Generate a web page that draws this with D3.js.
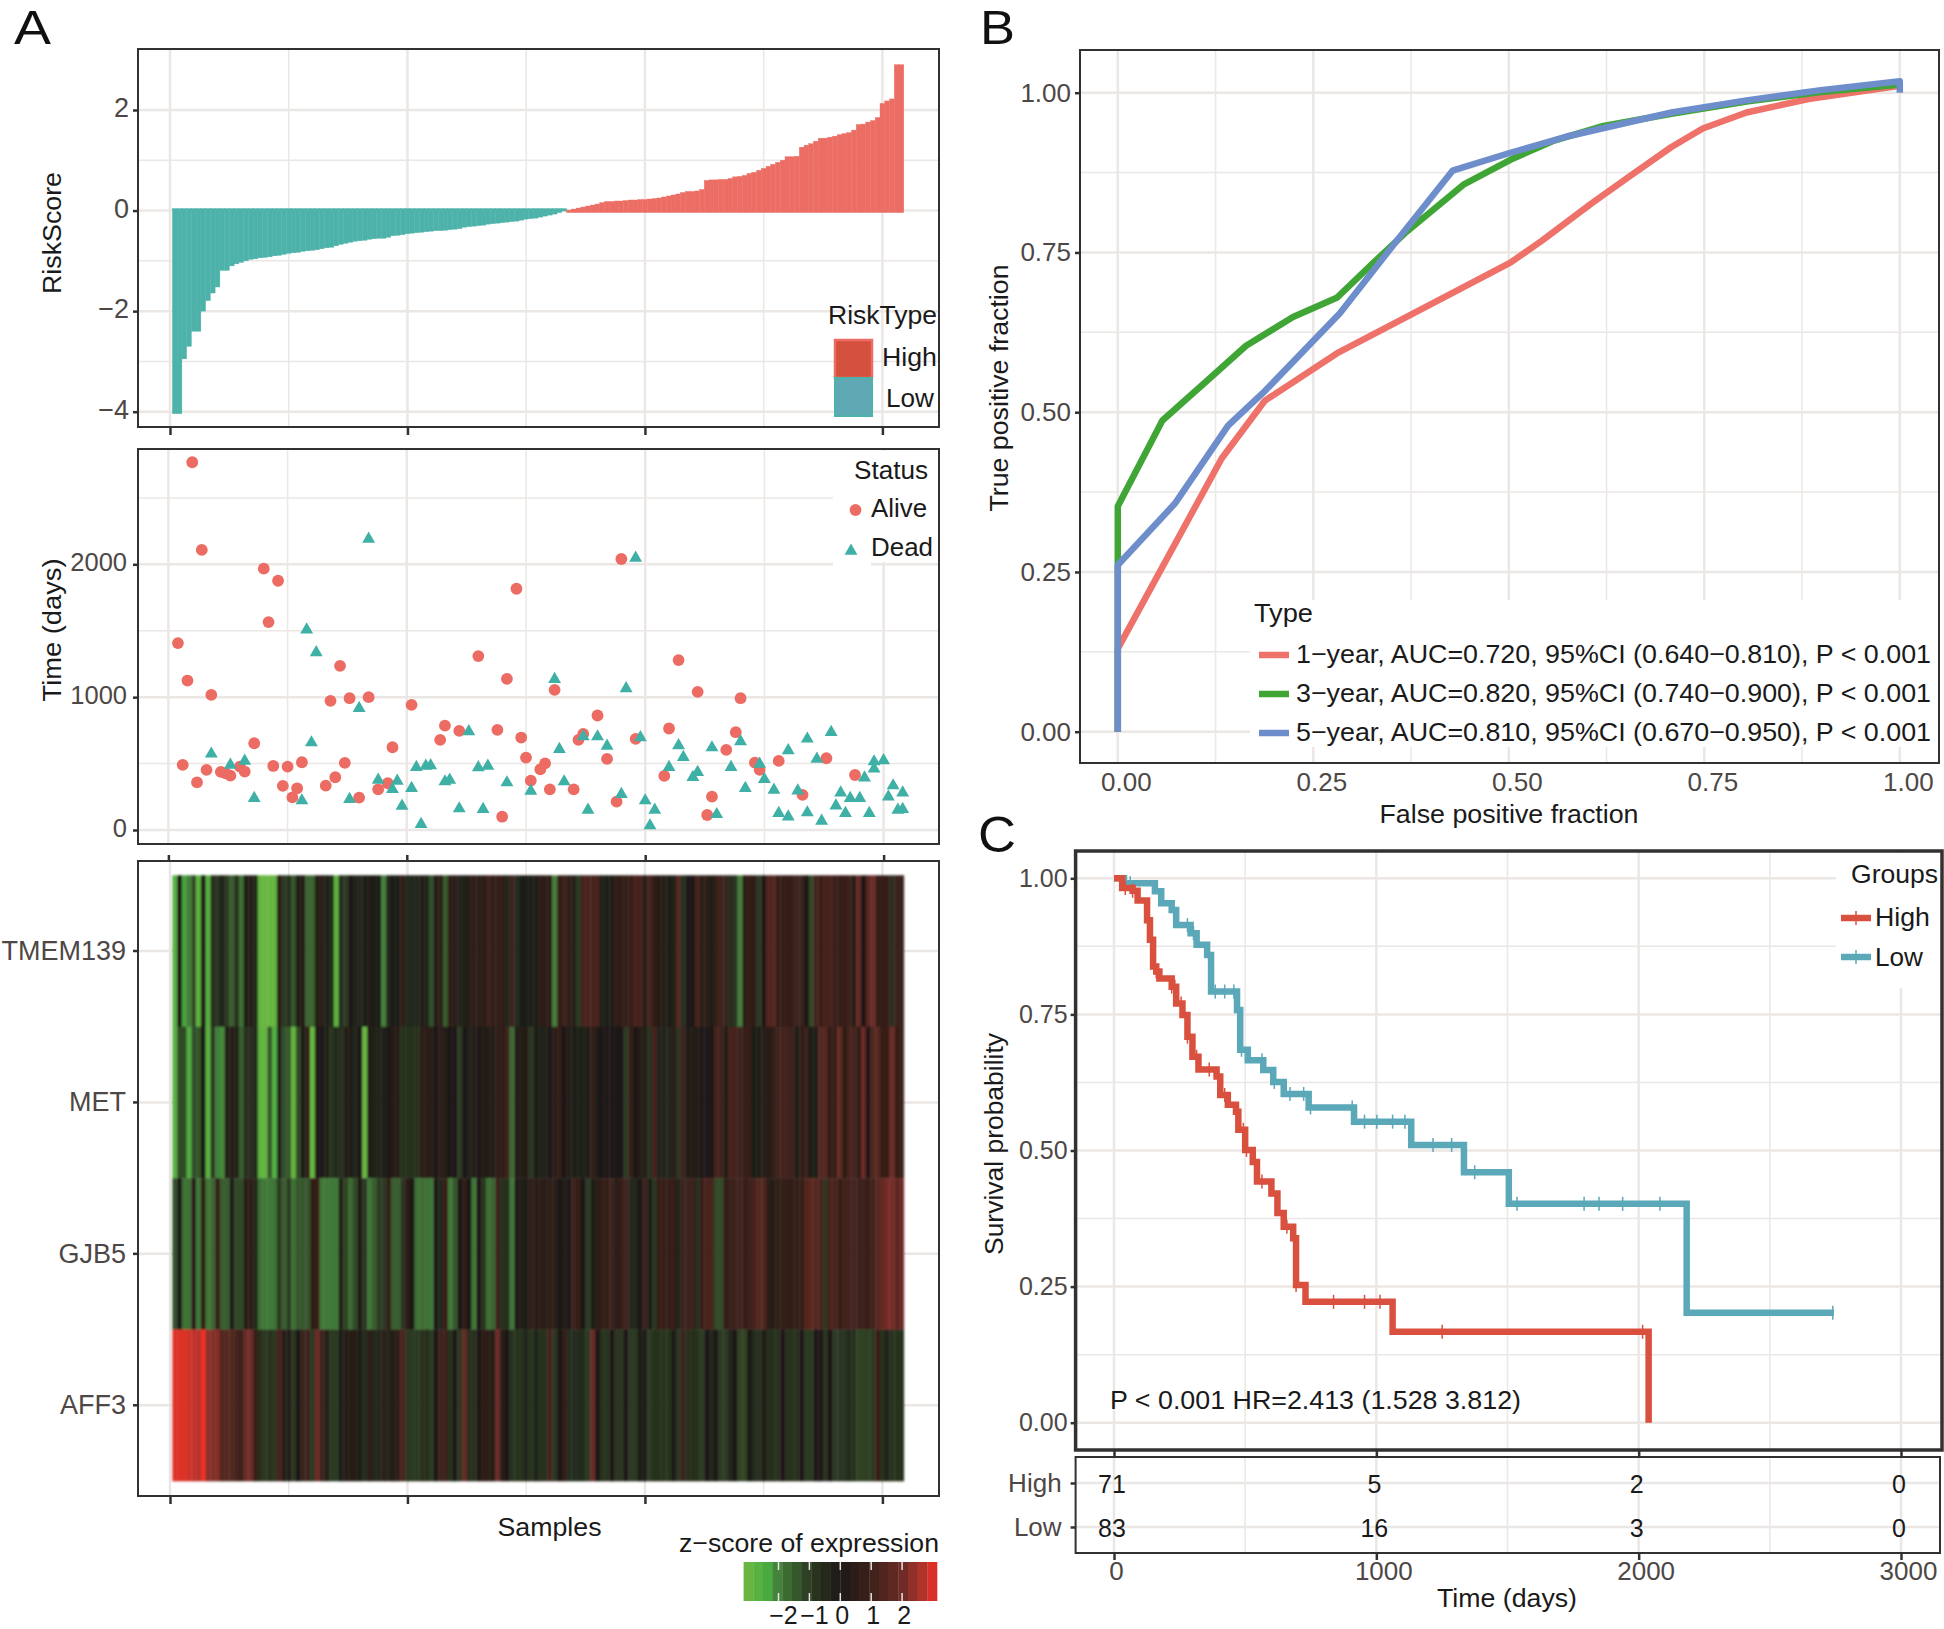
<!DOCTYPE html>
<html>
<head>
<meta charset="utf-8">
<script src="https://cdn.jsdelivr.net/npm/d3@7"></script>
<style>
  html, body { margin: 0; padding: 0; background: #fff; }
  svg { display: block; }
</style>
</head>
<body>
<script>
/**
 * Primary constants
 */
const WIDTH = 1944;
const HEIGHT = 1629;
const FONT = "'Liberation Sans', Arial, sans-serif";
const GRID_COLOR = "#ebe7e5";
const AXIS_COLOR = "#4d4745";
const FRAME_COLOR = "#333030";

/**
 * Panel A - risk score per sample, sorted
 */
const riskLow = [-4.04,-4.04,-2.95,-2.70,-2.40,-2.40,-2.00,-1.79,-1.64,-1.52,
  -1.19,-1.19,-1.10,-1.06,-1.03,-1.00,-0.97,-0.96,-0.94,-0.93,
  -0.92,-0.90,-0.89,-0.87,-0.85,-0.84,-0.83,-0.81,-0.80,-0.79,
  -0.78,-0.76,-0.74,-0.73,-0.70,-0.67,-0.65,-0.63,-0.61,-0.60,
  -0.59,-0.57,-0.56,-0.55,-0.55,-0.53,-0.50,-0.49,-0.48,-0.46,
  -0.45,-0.44,-0.43,-0.42,-0.41,-0.40,-0.40,-0.39,-0.38,-0.37,
  -0.36,-0.33,-0.32,-0.31,-0.30,-0.29,-0.27,-0.26,-0.25,-0.24,
  -0.23,-0.22,-0.21,-0.19,-0.17,-0.16,-0.15,-0.13,-0.11,-0.09,
  -0.07,-0.04,-0.01];
const riskHigh = [0.01,0.03,0.05,0.07,0.09,0.11,0.13,0.16,0.18,0.18,
  0.19,0.19,0.20,0.21,0.21,0.22,0.22,0.23,0.24,0.25,
  0.27,0.29,0.31,0.33,0.36,0.38,0.38,0.39,0.42,
  0.60,0.61,0.61,0.62,0.62,0.64,0.67,0.68,0.70,0.74,
  0.76,0.80,0.84,0.88,0.92,0.96,1.00,1.07,1.07,1.08,
  1.26,1.30,1.33,1.38,1.44,1.44,1.46,1.48,1.51,1.53,
  1.55,1.60,1.71,1.72,1.76,1.79,1.85,2.13,2.18,2.22,2.90,2.90];

/**
 * Panel A - survival time per sample
 */
const aliveSample = [2,3,4,5,6,7,8,9,11,12,13,15,16,18,20,21,22,23,24,25,26,27,28,33,34,35,36,37,38,40,42,44,46,47,51,57,58,61,65,69,70,71,73,74,75,76,78,79,80,81,85,86,87,90,92,94,95,98,104,105,107,111,113,114,117,119,120,123,124,128,133,138,144];
const aliveDays = [1407,490,1125,2768,359,2108,452,1017,437,427,409,477,440,653,1967,1565,482,1876,332,477,246,314,510,334,972,397,1236,505,992,244,1000,306,352,623,942,678,786,746,1309,754,100,1138,1816,696,545,372,457,502,306,1055,306,678,723,862,535,213,2040,686,407,764,1279,1040,113,251,603,736,992,507,452,520,264,540,414];
const deadSample = [9,13,16,18,28,29,30,31,38,40,42,44,47,48,49,51,52,53,54,55,58,59,61,63,65,66,67,71,76,81,82,83,87,88,90,92,95,96,98,99,100,101,102,105,107,108,110,111,114,115,118,120,121,124,125,127,128,130,130,132,134,134,136,137,139,140,141,142,143,145,146,147,148,148,150,151,152,153,154,154];
const deadDays = [573,490,520,239,221,1507,658,1336,231,917,2190,377,306,369,181,314,472,43,482,485,364,377,161,741,470,156,482,357,294,1135,608,364,703,151,703,633,269,1065,2047,696,221,33,151,472,636,548,397,435,620,118,472,666,314,497,382,301,126,598,100,296,686,131,535,68,736,183,281,126,239,239,394,126,515,460,523,251,334,151,156,281];

/**
 * Panel A - expression heatmap, z-scores per sample
 */
const genes = ["TMEM139", "MET", "GJB5", "AFF3"];
const zTMEM139 = [-2.6,0,-2.3,-2,-1.2,-2.8,0,-2.6,-0.6,-0.8,-0.3,-1,-1.5,-0.7,-1.8,0.1,0.3,-0.5,-2.9,-3,-3,-2.9,0.4,-1,-0.6,-1.4,0.2,0.3,-1.6,-1.6,0.3,0.4,-0.2,-0.4,-2.8,-0.5,-1,0,-0.3,-0.4,0.1,0.2,0.1,-0.1,-2,-0.4,0.1,0.1,0.5,-0.5,-0.4,-0.4,
  0.2,-0.3,-1.3,0.3,0.4,-1.5,0.5,0.4,-0.3,-0.2,0.4,0.4,0.4,0.4,1,0.6,0.6,0.6,-0.4,1,-0.5,0.1,-0.1,-0.1,-0.1,0.5,0.5,0.4,-2,0.8,0.9,0.5,0.2,-1,1.2,1.2,1.2,1.2,-0.2,0.1,-0.1,0.6,0.6,0.6,0.6,1.2,1.2,0.3,1.2,0.5,
  0.3,0.3,0.1,-0.2,1.5,-0.6,0,0,1.2,0.4,0.4,-0.1,0.8,0.9,0.9,-0.6,-0.8,-2,0.4,0.7,0.5,-0.9,0,1.4,1.5,0.7,0.7,0.7,0.8,0.9,0.9,0,-1.2,1.2,0.8,1.2,1.2,0.8,0.7,0.8,1,0.3,1.8,0,1.5,2,0.7,0.7,0.7,-0.6,0.9,0.9];
const zMET = [-2.6,-1.2,-1.2,-2.5,-1.3,-1.4,0,-2.7,-1,-2,-2.1,0.2,0.3,-0.3,-1.5,-0.6,-0.6,-0.5,-2.8,-2.9,-1.4,-2.6,-0.3,-1.3,-1.4,-2.9,-1.2,-0.1,0.6,-3,0,0,-0.2,-0.8,-0.5,-0.6,0.2,0.2,-0.4,0,-3,0.2,-0.2,-0.3,-0.1,0.05,0.3,0.3,-0.7,-0.7,-0.7,-0.7,
  0.4,0.4,0.4,0,0.4,0.2,0,0,-1,0,-0.3,0.3,0,0.2,0.2,0.2,0.5,0.5,1,-1.7,0.2,0.3,0.2,-0.8,-0.1,-0.3,-0.3,0,0.4,0.7,0,0.2,-0.1,-0.3,-0.2,-0.1,0.7,0.1,0,0,0,0,0,-1,0.7,0,0.3,0.2,-0.7,1.2,
  -0.3,-0.3,-0.4,0.4,-0.8,1,0.1,0.3,0.2,0,0,0,1.2,1,0.2,1.2,1.2,0.9,0.7,0.7,-0.1,-0.1,0.4,0.3,0.6,1,1.1,1.1,1,0.1,0.6,0.9,0.1,0.1,1.5,1.5,0.6,0.8,1.8,0.5,1.2,1.2,0.4,2,0,1.4,1.5,0.8,0.8,2,0.8,0.9];
const zGJB5 = [-1.3,0,-1.8,-1.8,0.4,-1.9,0.6,-1.9,-1.6,0.7,-1.5,-1.5,0.1,-1.2,-1.2,0.3,0.5,-0.5,-1.8,-1.9,-1.9,-1.8,-1,-1.5,-1,-1.8,-1.4,-1.4,-1.4,0.5,0.8,-1.9,-1.9,-1.9,-1.9,-0.2,-1.1,-1.7,-1.2,-0.1,-0.8,-1.9,-1.5,-1,-1,0.6,-1.5,-1.5,-0.8,0.4,0,-1.8,
  -1.7,-1.8,-1.9,0,-0.4,0.8,-1.9,-1.4,0,0.6,0,-1.9,0,-0.8,-1.8,-1.6,0.9,-0.7,-0.6,-1.9,0.1,0.2,0.1,0.5,0.3,0.5,0.4,0.4,0.4,0,0.2,0,0.9,0.7,0,-1,0.1,0.4,0.7,0.6,1,0.4,0.7,1.1,-0.4,-0.4,0,0.9,0.1,-0.9,
  0.7,0.7,0.7,0.7,-0.3,0.9,0.9,0.9,-0.6,0.8,1.2,1.2,-1.2,-1.2,0.6,0.9,1,1.1,0.7,0.9,1.2,1.4,1.4,0.4,0.3,0.5,0.6,0.6,0.6,0.6,0.7,1.4,1.7,1.4,1.3,-0.9,1.3,1.2,0.8,1.1,1.1,1.1,0.9,1,0.8,1,1.6,1.8,2.1,2.1,1.6,2];
const zAFF3 = [3,3,3,2.9,2.8,2.7,3.13,2.3,2.2,2.2,1.4,1.5,1.4,1.2,0.9,2,2,0.8,-0.6,-0.9,-0.6,-0.9,1.3,0.2,0.2,-0.9,0,0.9,1,-1,2,1,0.2,-1,-1,0.1,0.2,0.3,0.3,0.1,-0.5,0.5,-0.4,-0.4,0.4,-0.4,0.3,0.5,1.3,-0.9,-1,-0.9,
  -0.6,-0.6,-1,0,1,1,-0.7,0,-0.8,1.9,-0.6,-0.6,0,0.5,0.5,0.2,1.9,0.3,0,-0.7,-0.7,-0.7,-0.4,-0.7,-0.2,-0.7,-0.7,1.2,-0.8,0,0.6,-0.5,-0.5,-0.5,-0.5,-0.9,1.9,0,-0.7,-0.7,0,-0.8,-0.8,0,-0.9,-0.9,0.1,0.1,-1,-0.6,
  -0.7,-0.7,-0.7,-0.1,-0.8,0.9,-0.6,-0.6,-0.7,-1,0,-0.4,0.1,-1,-1,-0.4,0,-1.1,-1.1,0,-0.5,-0.6,-0.1,-0.6,-0.6,-0.6,0,-0.7,-0.7,-0.6,0,-1,-1,0,0,-0.8,0,-1,-0.8,-0.8,-0.5,-0.6,-1.1,-1.1,-1.1,-0.9,0.8,-0.7,-0.3,-0.7,-0.7,-0.7];
const zStops = [-3.13,-2.4,-2,-1,0,1,2,2.6,3.13];
const zColors = ["#70b840","#4bae42","#437f3a","#2c3b22","#1c1916","#3e211a","#6d2b26","#a8332b","#ee3026"];

/**
 * Panel B - ROC curves
 */
const rocFpf1 = [0,0,0.133,0.188,0.28,0.43,0.502,0.542,0.605,0.653,0.708,0.748,0.804,0.883,1];
const rocTpf1 = [0,0.13,0.428,0.518,0.592,0.688,0.734,0.768,0.826,0.868,0.915,0.944,0.969,0.99,1.011];
const rocFpf3 = [0,0,0.057,0.113,0.164,0.224,0.28,0.327,0.367,0.442,0.502,0.558,0.621,0.708,0.804,0.899,1];
const rocTpf3 = [0,0.353,0.487,0.548,0.604,0.649,0.679,0.734,0.78,0.856,0.895,0.925,0.948,0.967,0.986,1.001,1.013];
const rocFpf5 = [0,0,0.073,0.141,0.188,0.284,0.359,0.428,0.502,0.573,0.708,0.804,0.899,1,1];
const rocTpf5 = [0,0.261,0.357,0.479,0.533,0.655,0.772,0.878,0.906,0.931,0.969,0.988,1.004,1.018,1];
const rocNames = ["1\u2212year, AUC=0.720, 95%CI (0.640\u22120.810), P < 0.001",
  "3\u2212year, AUC=0.820, 95%CI (0.740\u22120.900), P < 0.001",
  "5\u2212year, AUC=0.810, 95%CI (0.670\u22120.950), P < 0.001"];
const rocColors = ["#ee7269", "#3fa535", "#6d8ecb"];

/**
 * Panel C - Kaplan-Meier steps and number at risk
 */
const highTime = [0,31,71,90,126,137,149,161,173,220,237,261,280,299,322,391,405,434,465,474,500,529,545,600,623,647,683,694,730,1062,2038];
const highSurv = [1,0.982,0.977,0.959,0.923,0.887,0.838,0.829,0.816,0.801,0.77,0.749,0.709,0.672,0.649,0.636,0.602,0.584,0.571,0.538,0.501,0.479,0.443,0.421,0.385,0.36,0.339,0.253,0.222,0.167,0];
const highCensor = [43,71,161,220,232,256,280,315,363,422,469,493,505,564,659,694,837,955,1014,1251,2015];
const lowTime = [0,38,156,180,220,237,292,315,355,370,469,481,510,569,607,647,742,915,1133,1334,1505,2183,2744];
const lowSurv = [1,0.991,0.976,0.954,0.942,0.914,0.899,0.878,0.859,0.792,0.758,0.685,0.666,0.648,0.626,0.604,0.579,0.553,0.51,0.46,0.402,0.202,0.202];
const lowCensor = [62,280,303,363,386,422,457,474,486,564,611,671,723,749,908,955,1002,1062,1109,1216,1287,1375,1536,1792,1849,1939,2081,2740];
const riskGroups = ["High", "Low"];
const riskTimes = [0, 1000, 2000, 3000];
const atRiskHigh = [71, 5, 2, 0];
const atRiskLow = [83, 16, 3, 0];

const svg = d3.select("body").append("svg")
    .attr("width", WIDTH)
    .attr("height", HEIGHT)
    .attr("viewBox", [0, 0, WIDTH, HEIGHT]);

svg.append("rect").attr("width", WIDTH).attr("height", HEIGHT).attr("fill", "white");

// The tiles in the reference run into each other a little
const soft = svg.append("defs").append("filter").attr("id", "soft")
    .attr("x", "-2%").attr("y", "-2%").attr("width", "104%").attr("height", "104%");
soft.append("feGaussianBlur").attr("stdDeviation", 0.8);

/**
 * Put a text at x,y (vertical centre). A width squeezes or stretches it to size.
 */
function label(x, y, text, opts) {
    opts = opts || {};
    const t = svg.append("text")
        .attr("x", x)
        .attr("y", y)
        .attr("dy", "0.35em")
        .attr("font-family", FONT)
        .attr("font-size", opts.size || 26)
        .attr("fill", opts.color || "#1a1a1a")
        .attr("text-anchor", opts.anchor || "start")
        .text(text);
    if (opts.rotate) t.attr("transform", `rotate(-90 ${x} ${y})`);
    if (opts.width) t.attr("textLength", opts.width).attr("lengthAdjust", "spacingAndGlyphs");
    return t;
}

function frame(x0, x1, y0, y1, w) {
    svg.append("rect")
        .attr("x", x0).attr("y", y0)
        .attr("width", x1 - x0).attr("height", y1 - y0)
        .attr("fill", "none")
        .attr("stroke", FRAME_COLOR)
        .attr("stroke-width", w || 2);
}

// Major and minor grid lines over a panel box
function grid(xScale, yScale, box, xMajor, xMinor, yMajor, yMinor) {
    const g = svg.append("g").attr("stroke", GRID_COLOR);
    const vertical = (vals, w) => g.append("g").attr("stroke-width", w).selectAll("line").data(vals).join("line")
        .attr("x1", d => xScale(d)).attr("x2", d => xScale(d))
        .attr("y1", box.y0).attr("y2", box.y1);
    const horizontal = (vals, w) => g.append("g").attr("stroke-width", w).selectAll("line").data(vals).join("line")
        .attr("y1", d => yScale(d)).attr("y2", d => yScale(d))
        .attr("x1", box.x0).attr("x2", box.x1);
    vertical(xMinor, 1.5);
    horizontal(yMinor, 1.5);
    vertical(xMajor, 2.5);
    horizontal(yMajor, 2.5);
}

// d3 axis with the domain line dropped and ggplot-like ticks
function drawAxis(axis, tx, ty, size, labelShift, labelDy) {
    const g = svg.append("g")
        .attr("transform", `translate(${tx},${ty})`)
        .call(axis);
    g.select(".domain").remove();
    g.selectAll(".tick line").attr("stroke", FRAME_COLOR).attr("stroke-width", 2.5);
    g.selectAll(".tick text")
        .attr("font-family", FONT)
        .attr("font-size", size || 26)
        .attr("fill", AXIS_COLOR);
    if (labelShift) g.selectAll(".tick text").attr("dx", labelShift);
    if (labelDy) g.selectAll(".tick text").attr("dy", labelDy);
    return g;
}

const minus = d => String(d).replace("-", "\u2212");

/**
 * Panel A, top: risk score bars
 */
const A_X0 = 138, A_X1 = 939;
const sampleX = d3.scaleLinear().domain([0, 150]).range([170, 882.4]);
const scatterX = d3.scaleLinear().domain([0, 150]).range([168.4, 883.6]);
const sampleBarW = sampleX(1) - sampleX(0);
const sampleMajor = [0, 50, 100, 150];
const sampleMinor = [25, 75, 125];
const RED = "#ec6d64";
const TEAL = "#4db2a9";

function drawRiskBars() {
    const box = {x0: A_X0, x1: A_X1, y0: 49, y1: 427};
    const y = d3.scaleLinear().domain([-4, 2]).range([411.7, 110]);
    grid(sampleX, y, box, sampleMajor, sampleMinor, [-4, -2, 0, 2], [-3, -1, 1]);

    const bars = riskLow.concat(riskHigh);
    svg.append("g").selectAll("rect").data(bars).join("rect")
        .attr("x", (d, i) => sampleX(i + 1 - 0.5))
        .attr("width", sampleBarW)
        .attr("y", d => Math.min(y(d), y(0)) - (d < 0 ? 2 : 0))
        .attr("height", d => Math.abs(y(d) - y(0)) + 2)
        .attr("fill", d => d < 0 ? TEAL : RED)
        .attr("stroke", d => d < 0 ? TEAL : RED)
        .attr("stroke-width", 0.4);

    frame(box.x0, box.x1, box.y0, box.y1);
    drawAxis(d3.axisLeft(y).tickValues([-4, -2, 0, 2]).tickFormat(minus).tickSize(5).tickPadding(4), box.x0, 0, 27, 0, "0.24em");
    drawAxis(d3.axisBottom(sampleX).tickValues(sampleMajor).tickFormat("").tickSize(8), 0, box.y1);
    label(52, 233, "RiskScore", {anchor: "middle", rotate: true, size: 25, width: 122});

    // Legend
    label(828, 315, "RiskType", {size: 26, width: 109});
    svg.append("rect").attr("x", 835).attr("y", 340).attr("width", 37).attr("height", 38)
        .attr("fill", "#d4503f").attr("stroke", RED).attr("stroke-width", 2.5);
    svg.append("rect").attr("x", 835).attr("y", 378).attr("width", 37).attr("height", 38)
        .attr("fill", "#5fa9b5").attr("stroke", TEAL).attr("stroke-width", 2);
    label(882, 357, "High", {size: 26, width: 55});
    label(886, 398, "Low", {size: 26, width: 48});
}

/**
 * Panel A, middle: survival time scatter
 */
function drawScatter() {
    const box = {x0: A_X0, x1: A_X1, y0: 449, y1: 844};
    const y = d3.scaleLinear().domain([0, 2000]).range([830, 564.3]);
    grid(scatterX, y, box, sampleMajor, sampleMinor, [0, 1000, 2000], [500, 1500, 2500]);

    // Legend background hides the grid behind it
    svg.append("rect").attr("x", 833).attr("y", 451).attr("width", 105).attr("height", 111).attr("fill", "white");
    svg.append("rect").attr("x", 833).attr("y", 451).attr("width", 38).attr("height", 118).attr("fill", "white");

    svg.append("g").selectAll("circle").data(aliveSample).join("circle")
        .attr("cx", d => scatterX(d))
        .attr("cy", (d, i) => y(aliveDays[i]))
        .attr("r", 5.9)
        .attr("fill", "#ec6b62");

    const tri = d3.symbol().type(d3.symbolTriangle).size(72);
    svg.append("g").selectAll("path").data(deadSample).join("path")
        .attr("d", tri)
        .attr("transform", (d, i) => `translate(${scatterX(d)},${y(deadDays[i])})`)
        .attr("fill", "#3fb0a6");

    frame(box.x0, box.x1, box.y0, box.y1);
    drawAxis(d3.axisLeft(y).tickValues([0, 1000, 2000]).tickFormat(d3.format("d")).tickSize(5).tickPadding(6), box.x0, 0, 25.5, 0, "0.26em");
    drawAxis(d3.axisBottom(scatterX).tickValues(sampleMajor).tickFormat("").tickSize(6), 0, 855);
    label(52, 630, "Time (days)", {anchor: "middle", rotate: true, size: 25, width: 143});

    label(854, 470, "Status", {size: 26, width: 74});
    svg.append("circle").attr("cx", 855.5).attr("cy", 510).attr("r", 5.9).attr("fill", "#ec6b62");
    svg.append("path").attr("d", tri).attr("transform", "translate(851,551)").attr("fill", "#3fb0a6");
    label(871, 508, "Alive", {size: 26, width: 56});
    label(871, 547, "Dead", {size: 26, width: 62});
}

/**
 * Panel A, bottom: expression heatmap
 */
const zScale = d3.scaleLinear().domain(zStops).range(zColors);

function drawHeatmap() {
    const box = {x0: A_X0, x1: A_X1, y0: 861, y1: 1496};
    const y = d3.scaleBand().domain(genes).range([875.3, 1481]);
    const bandCentres = genes.map(g => y(g) + y.bandwidth() / 2);
    const gridY = d3.scaleLinear().domain([0, 1]).range([0, 1]);
    grid(sampleX, gridY, box, sampleMajor, sampleMinor, bandCentres, []);

    const rows = [zTMEM139, zMET, zGJB5, zAFF3];
    const tiles = svg.append("g").attr("filter", "url(#soft)");
    rows.forEach((row, r) => {
        tiles.append("g").selectAll("rect").data(row).join("rect")
            .attr("x", (d, i) => sampleX(i + 0.5))
            .attr("width", sampleBarW + 0.3)
            .attr("y", y(genes[r]))
            .attr("height", y.bandwidth() + 0.3)
            .attr("fill", d => zScale(d));
    });

    frame(box.x0, box.x1, box.y0, box.y1);
    drawAxis(d3.axisLeft(y).tickSize(5).tickPadding(7), box.x0, 0, 27);
    drawAxis(d3.axisBottom(sampleX).tickValues(sampleMajor).tickFormat("").tickSize(8), 0, box.y1);

    label(497.5, 1527, "Samples", {size: 26, width: 104});
    label(679, 1543, "z\u2212score of expression", {size: 26, width: 260});

    // Colour bar with 20 bins
    const barX = d3.scaleLinear().domain([-3.13, 3.13]).range([743.6, 937]);
    const bins = d3.range(20);
    const binValue = i => -3.13 + (i + 0.5) * 6.26 / 20;
    svg.append("g").selectAll("rect").data(bins).join("rect")
        .attr("x", i => barX(-3.13 + i * 6.26 / 20))
        .attr("width", 193.4 / 20 + 0.3)
        .attr("y", 1562)
        .attr("height", 39)
        .attr("fill", i => zScale(binValue(i)));
    const ticks = svg.append("g").attr("stroke", "#e8e4e2").attr("stroke-width", 1.5);
    [-2, -1, 0, 1, 2].forEach(v => {
        ticks.append("line").attr("x1", barX(v)).attr("x2", barX(v)).attr("y1", 1562).attr("y2", 1570);
        ticks.append("line").attr("x1", barX(v)).attr("x2", barX(v)).attr("y1", 1593).attr("y2", 1601);
        label(barX(v) + (v < 0 ? 5 : 2), 1615, minus(v), {anchor: "middle", size: 25});
    });
}

/**
 * Panel B: ROC curves
 */
function drawRoc() {
    const box = {x0: 1080, x1: 1939, y0: 50, y1: 763};
    const x = d3.scaleLinear().domain([0, 1]).range([1117.8, 1899.8]);
    const y = d3.scaleLinear().domain([0, 1]).range([731.7, 92.7]);
    const major = [0, 0.25, 0.5, 0.75, 1];
    const minor = [0.125, 0.375, 0.625, 0.875];
    grid(x, y, box, major, minor, major, minor);

    const line = d3.line().x(d => x(d[0])).y(d => y(d[1]));
    const curves = [d3.zip(rocFpf1, rocTpf1), d3.zip(rocFpf3, rocTpf3), d3.zip(rocFpf5, rocTpf5)];

    // Legend background goes under the curves
    svg.append("rect").attr("x", 1250).attr("y", 600).attr("width", 688).attr("height", 147).attr("fill", "white");

    curves.forEach((c, i) => {
        svg.append("path").datum(c)
            .attr("d", line)
            .attr("fill", "none")
            .attr("stroke", rocColors[i])
            .attr("stroke-width", 6.5)
            .attr("stroke-linejoin", "round");
    });

    frame(box.x0, box.x1, box.y0, box.y1);
    const fmt = d3.format(".2f");
    drawAxis(d3.axisLeft(y).tickValues(major).tickFormat(fmt).tickSize(5).tickPadding(4), box.x0, 0, 26);
    drawAxis(d3.axisBottom(x).tickValues(major).tickFormat(fmt).tickSize(0).tickPadding(10), 0, box.y1, 26, 8);

    label(1509, 814, "False positive fraction", {anchor: "middle", size: 25, width: 259});
    label(999, 388, "True positive fraction", {anchor: "middle", rotate: true, size: 25, width: 247});

    label(1254, 613, "Type", {size: 25, width: 59});
    rocNames.forEach((name, i) => {
        const ky = [655, 694, 733][i];
        svg.append("line").attr("x1", 1259).attr("x2", 1289).attr("y1", ky).attr("y2", ky)
            .attr("stroke", rocColors[i]).attr("stroke-width", 6.5);
        label(1296, ky - 1, name, {size: 26, width: 635});
    });
}

/**
 * Panel C: survival curves and number at risk table
 */
function drawSurvival() {
    const box = {x0: 1075.6, x1: 1942, y0: 851, y1: 1450};
    const x = d3.scaleLinear().domain([0, 3000]).range([1114, 1901]);
    const y = d3.scaleLinear().domain([0, 1]).range([1422.7, 878.3]);
    const major = [0, 0.25, 0.5, 0.75, 1];
    const minor = [0.125, 0.375, 0.625, 0.875];
    grid(x, y, box, riskTimes, [500, 1500, 2500], major, minor);

    svg.append("rect").attr("x", 1836).attr("y", 853).attr("width", 104).attr("height", 135).attr("fill", "white");

    const step = d3.line().curve(d3.curveStepAfter).x(d => x(d[0])).y(d => y(d[1]));
    const series = [
        {t: lowTime, s: lowSurv, c: lowCensor, color: "#5aa8b8"},
        {t: highTime, s: highSurv, c: highCensor, color: "#d9503f"}
    ];
    series.forEach(d => {
        svg.append("path").datum(d3.zip(d.t, d.s))
            .attr("d", step)
            .attr("fill", "none")
            .attr("stroke", d.color)
            .attr("stroke-width", 6.5);
        // censor marks sit on the step that is current at that time
        svg.append("g").attr("stroke", d.color).attr("stroke-width", 1.5)
            .selectAll("line").data(d.c).join("line")
            .attr("x1", t => x(t)).attr("x2", t => x(t))
            .attr("y1", t => y(d.s[d3.bisectRight(d.t, t) - 1]) - 7)
            .attr("y2", t => y(d.s[d3.bisectRight(d.t, t) - 1]) + 7);
    });

    frame(box.x0, box.x1, box.y0, box.y1, 3.5);
    drawAxis(d3.axisLeft(y).tickValues(major).tickFormat(d3.format(".2f")).tickSize(4).tickPadding(3), box.x0 - 1, 0, 25);
    drawAxis(d3.axisBottom(x).tickValues(riskTimes).tickFormat("").tickSize(7), 0, box.y1);

    label(994, 1144, "Survival probability", {anchor: "middle", rotate: true, size: 25, width: 222});
    label(1110, 1400, "P < 0.001 HR=2.413 (1.528 3.812)", {size: 25, width: 411});

    label(1851, 874, "Groups", {size: 25, width: 87});
    ["#d9503f", "#5aa8b8"].forEach((c, i) => {
        const ky = [918, 957][i];
        svg.append("line").attr("x1", 1841).attr("x2", 1871).attr("y1", ky).attr("y2", ky)
            .attr("stroke", c).attr("stroke-width", 6.5);
        svg.append("line").attr("x1", 1856).attr("x2", 1856).attr("y1", ky - 7).attr("y2", ky + 7)
            .attr("stroke", c).attr("stroke-width", 1.5);
    });
    label(1875, 917, "High", {size: 25, width: 55});
    label(1875, 957, "Low", {size: 25, width: 48});

    // Number at risk table
    const tableBox = {x0: 1075.6, x1: 1940, y0: 1457, y1: 1553};
    const tableY = d3.scalePoint().domain(riskGroups).range([1483, 1527]);
    const tableGridY = d3.scaleLinear().domain([0, 1]).range([0, 1]);
    grid(x, tableGridY, tableBox, riskTimes, [500, 1500, 2500], [1483, 1527], []);
    frame(tableBox.x0, tableBox.x1, tableBox.y0, tableBox.y1);

    [atRiskHigh, atRiskLow].forEach((row, r) => {
        svg.append("g").selectAll("text").data(row).join("text")
            .attr("x", (d, i) => x(riskTimes[i]) - 2)
            .attr("y", tableY(riskGroups[r]) + 1)
            .attr("dy", "0.35em")
            .attr("text-anchor", "middle")
            .attr("font-family", FONT)
            .attr("font-size", 25)
            .attr("fill", "#1a1a1a")
            .text(d => d);
    });

    drawAxis(d3.axisLeft(tableY).tickSize(5).tickPadding(9), tableBox.x0, 0, 26);
    drawAxis(d3.axisBottom(x).tickValues(riskTimes).tickFormat(d3.format("d")).tickSize(7).tickPadding(2), 0, tableBox.y1, 26, d => d === 0 ? 2 : 7);
    label(1507, 1598, "Time (days)", {anchor: "middle", size: 25, width: 140});
}

function main() {
    drawRiskBars();
    drawScatter();
    drawHeatmap();
    drawRoc();
    drawSurvival();

    label(14, 27, "A", {size: 48, color: "#111", width: 37});
    label(980, 27, "B", {size: 48, color: "#111", width: 35});
    label(978, 834, "C", {size: 50, color: "#111", width: 38});
}

main();
</script>
</body>
</html>
